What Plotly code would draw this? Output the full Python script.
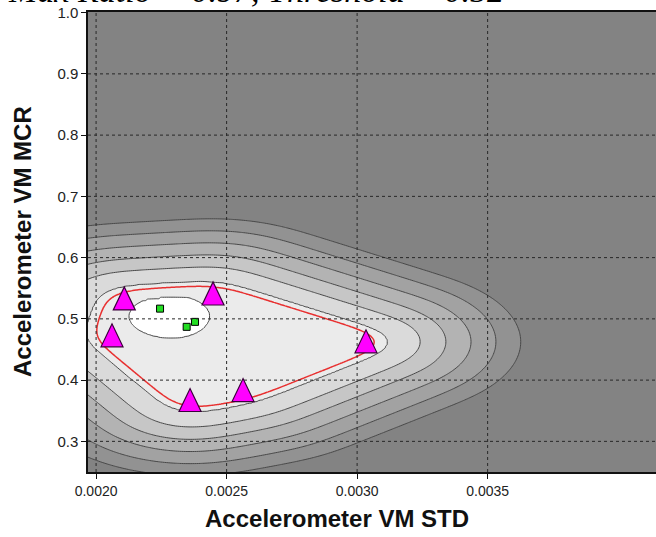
import numpy as np
import plotly.graph_objects as go

# ---- data ----
tri_x = [0.002108, 0.002448, 0.002061, 0.002360, 0.002563, 0.003034]
tri_y = [0.5325, 0.5406, 0.4724, 0.3667, 0.3830, 0.4626]
sq_x = [0.002245, 0.002379, 0.002347]
sq_y = [0.5167, 0.4951, 0.4870]
threshold = 0.52
max_ratio = 0.97
x_ticks = [0.0020, 0.0025, 0.0030, 0.0035]
y_ticks = [0.3, 0.4, 0.5, 0.6, 0.7, 0.8, 0.9, 1.0]
# contour bands outside the threshold line, as distances from it (screen units)
band_dist = [5, 19, 31, 43, 55, 67]
peak_level = 0.87
band_colors = ['#838383', '#929292', '#a2a2a2', '#b3b3b3', '#c6c6c6',
               '#dadada', '#ebebeb', '#ffffff']

# ---- surface: smoothed distance from the boundary through the triangles + KDE peak ----
sx = 0.0005 / 130.5 * 2.05  # data units of x per distance unit
sy = 0.1 / 61.5             # data units of y per distance unit
gx = np.linspace(0.00185, 0.00430, 340)
gy = np.linspace(0.15, 1.05, 340)
X, Y = np.meshgrid(gx, gy)
U, V = X / sx, Y / sy

tx, ty = np.array(tri_x) / sx, np.array(tri_y) / sy
order = np.argsort(np.arctan2(ty - ty.mean(), tx - tx.mean()))
vx, vy = tx[order], ty[order]
n = len(vx)
dist = np.full(U.shape, np.inf)
inside = np.zeros(U.shape, dtype=bool)
for i in range(n):
    ax, ay = vx[i], vy[i]
    bx, by = vx[(i + 1) % n], vy[(i + 1) % n]
    ex, ey = bx - ax, by - ay
    t = np.clip(((U - ax) * ex + (V - ay) * ey) / (ex * ex + ey * ey), 0, 1)
    d = np.hypot(U - (ax + t * ex), V - (ay + t * ey))
    dist = np.minimum(dist, d)
    cond = ((ay > V) != (by > V)) & (U < (bx - ax) * (V - ay) / (by - ay + 1e-12) + ax)
    inside ^= cond
sd = np.where(inside, -dist, dist)


def blur(a, sig_u, sig_v):
    du = (gx[1] - gx[0]) / sx
    dv = (gy[1] - gy[0]) / sy
    out = a
    for axis, s in ((1, sig_u / du), (0, sig_v / dv)):
        r = int(3 * s) + 1
        kern = np.exp(-0.5 * (np.arange(-r, r + 1) / s) ** 2)
        kern /= kern.sum()
        pad = [(0, 0), (0, 0)]
        pad[axis] = (r, r)
        p = np.pad(out, pad, mode="edge")
        out = np.apply_along_axis(lambda m: np.convolve(m, kern, mode="valid"), axis, p)
    return out


k = 0.0065
off = 9.0
Zd = threshold - (sd - off) * k
Zd = blur(Zd, 9, 9)
Zd = np.minimum(Zd, 0.7)

px = np.array(tri_x + sq_x)
py = np.array(tri_y + sq_y)
hx, hy = 0.00024, 0.055
K = np.zeros_like(X)
for a, b in zip(px, py):
    K += np.exp(-0.5 * ((X - a) / hx) ** 2 - 0.5 * ((Y - b) / hy) ** 2)
K /= K.max()
Z = np.where(Zd >= 0.58, np.maximum(Zd, K), Zd)

levels = sorted([threshold - d * k for d in band_dist]) + [peak_level]
nl = len(levels)
step = levels[1] - levels[0]
Zt = np.interp(Z, [levels[0] - step] + levels + [1.0], list(range(nl + 2)))
cs = [[i / nl, c] for i, c in enumerate(band_colors)]

fig = go.Figure()
fig.add_trace(go.Contour(
    x=gx, y=gy, z=Zt, autocontour=False,
    contours=dict(start=1, end=nl, size=1, coloring="fill"),
    colorscale=cs, showscale=False,
    line=dict(color="rgb(72,72,72)", width=1, smoothing=1), hoverinfo="skip"))
fig.add_trace(go.Contour(
    x=gx, y=gy, z=Z, autocontour=False,
    contours=dict(start=threshold, end=threshold, size=0.1, coloring="none"),
    line=dict(color="rgb(232,48,48)", width=1.5, smoothing=1),
    showscale=False, hoverinfo="skip"))
fig.add_trace(go.Scatter(
    x=sq_x, y=sq_y, mode="markers",
    marker=dict(symbol="square", size=7, color="#22dd22",
                line=dict(color="#000000", width=1)), hoverinfo="skip"))

shapes = []
for v in x_ticks:
    shapes.append(dict(type="line", xref="x", yref="paper", x0=v, x1=v, y0=0, y1=1,
                       line=dict(color="rgb(40,40,40)", width=1, dash="3px,3px"), layer="above"))
for v in y_ticks[:-1]:
    shapes.append(dict(type="line", xref="paper", yref="y", x0=0, x1=1, y0=v, y1=v,
                       line=dict(color="rgb(40,40,40)", width=1, dash="3px,3px"), layer="above"))
# triangle markers, anchored at the data points
for a, b in zip(tri_x, tri_y):
    shapes.append(dict(type="path", xref="x", yref="y", xsizemode="pixel", ysizemode="pixel",
                       xanchor=a, yanchor=b, path="M -11 -11 L 11 -11 L 0 12 Z",
                       fillcolor="#ff00ff", line=dict(color="#3a003a", width=1.2),
                       layer="above"))

fig.update_layout(
    width=656, height=537,
    margin=dict(l=88, r=0, t=12, b=65),
    paper_bgcolor="white", plot_bgcolor="#838383",
    showlegend=False, shapes=shapes,
    font=dict(family="Liberation Sans, Arial", color="#222"),
    xaxis=dict(range=[0.001969, 0.004145], tickvals=x_ticks, tickformat=".4f",
               showgrid=False, zeroline=False, showline=True, linecolor="#111",
               linewidth=1.5, mirror=True, ticks="outside", ticklen=5, tickcolor="#111",
               tickfont=dict(size=14, color="#222")),
    yaxis=dict(range=[0.25, 1.001], tickvals=y_ticks, tickformat=".1f",
               showgrid=False, zeroline=False, showline=True, linecolor="#111",
               linewidth=1.5, ticks="outside", ticklen=5, tickcolor="#111",
               tickfont=dict(size=15, color="#222")),
    annotations=[
        dict(text=f"<i>Max Ratio = {max_ratio}, Threshold = {threshold}</i>",
             xref="paper", yref="paper", x=-88 / 568, xshift=6, y=1.0, yshift=1,
             xanchor="left", yanchor="bottom", showarrow=False,
             font=dict(family="Liberation Serif", size=34, color="#000")),
        dict(text="<b>Accelerometer VM STD</b>", xref="paper", yref="paper",
             x=(337 - 88) / 568, y=0, yshift=-62, xanchor="center", yanchor="bottom",
             showarrow=False, font=dict(size=24, color="#111")),
        dict(text="<b>Accelerometer VM MCR</b>", xref="paper", yref="paper",
             x=0, xshift=-66, y=0.5, xanchor="center", yanchor="middle", textangle=-90,
             showarrow=False, font=dict(size=24, color="#111")),
    ],
)
fig.write_html("out.html")
